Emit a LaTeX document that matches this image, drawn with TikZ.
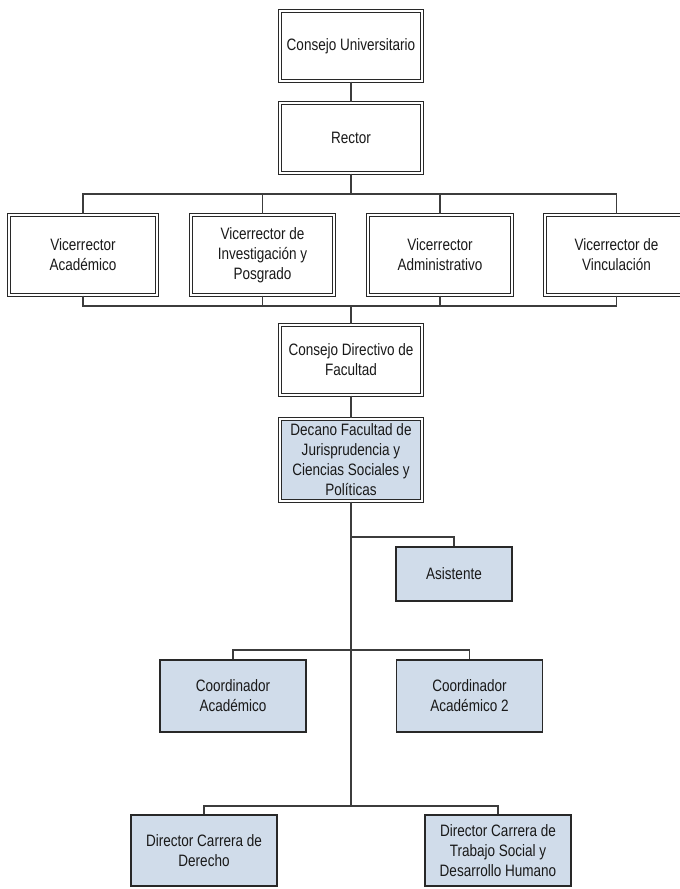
\documentclass[tikz,border=0pt]{standalone}
\usepackage{fontspec}
\setmainfont{Liberation Sans}[FakeStretch=0.82]
\definecolor{azulcaja}{RGB}{208,220,234}
\definecolor{borde}{RGB}{40,40,40}
\definecolor{linea}{RGB}{60,60,60}

\begin{document}
\begin{tikzpicture}[x=1pt,y=-1pt,
	font=\fontsize{16.5}{20}\selectfont,
	caja/.style={draw=borde, line width=1.2pt, double=white, double distance=1.6pt,
		fill=white, align=center, inner sep=0pt, text=black!90,
		minimum width=142pt, minimum height=70pt},
	vice/.style={caja, minimum width=143pt, minimum height=80pt},
	cajaazul/.style={draw=borde, line width=1.5pt, fill=azulcaja, align=center,
		inner sep=0pt, text=black!90, minimum width=146pt, minimum height=72pt},
	conector/.style={draw=linea, line width=1.3pt}]
	\useasboundingbox (0,0) rectangle (680,889);
	%		\draw[lightgray] (0,0) grid[step=50] (680,889);
	\node[caja] (cu) at (351,46) {Consejo Universitario};
	\node[caja] (rector) at (351,138) {Rector};
	
	\node[vice, minimum width=148pt] (va) at (83,255) {Vicerrector\\Académico};
	\node[vice] (vi) at (262.5,255) {Vicerrector de\\Investigación y\\Posgrado};
	\node[vice, minimum width=144pt] (vad) at (440,255) {Vicerrector\\Administrativo};
	\node[vice] (vv) at (616.5,255) {Vicerrector de\\Vinculación};
	
	\node[caja] (cd) at (351,360) {Consejo Directivo de\\Facultad};
	\node[caja, fill=azulcaja, minimum height=82pt] (decano) at (351,460)
	{Decano Facultad de\\Jurisprudencia y\\Ciencias Sociales y\\Políticas};
	
	\node[cajaazul, minimum width=116pt, minimum height=54pt] (asis) at (454,574) {Asistente};
	\node[cajaazul] (coord1) at (233,696) {Coordinador\\Académico};
	\node[cajaazul] (coord2) at (469.5,696) {Coordinador\\Académico 2};
	\node[cajaazul, minimum height=71pt] (dir1) at (204,850.5) {Director Carrera de\\Derecho};
	\node[cajaazul, minimum height=71pt] (dir2) at (498,850.5)
	{Director Carrera de\\Trabajo Social y\\Desarrollo Humano};
	
	% puntos de reparto
	\coordinate (arriba) at (351,194);
	\coordinate (abajo) at (351,306);
	\coordinate (rasis) at (351,537);
	\coordinate (rcoord) at (351,650);
	\coordinate (rdir) at (351,806);
	
	\draw[conector] (cu) -- (rector);
	\draw[conector] (rector) -- (arriba);
	\foreach \v in {va,vi,vad,vv}
		\draw[conector] (arriba) -| (\v.north); % hacia vicerrectores
	\foreach \v in {va,vi,vad,vv}
		\draw[conector] (\v.south) |- (abajo);
	\draw[conector] (abajo) -- (cd);
	\draw[conector] (cd) -- (decano);
	\draw[conector] (decano) -- (rdir); % eje central
	\draw[conector] (rasis) -| (asis.north);
	\draw[conector] (rcoord) -| (coord1.north);
	\draw[conector] (rcoord) -| (coord2.north);
	\draw[conector] (rdir) -| (dir1.north);
	\draw[conector] (rdir) -| (dir2.north);
\end{tikzpicture}
\end{document}
